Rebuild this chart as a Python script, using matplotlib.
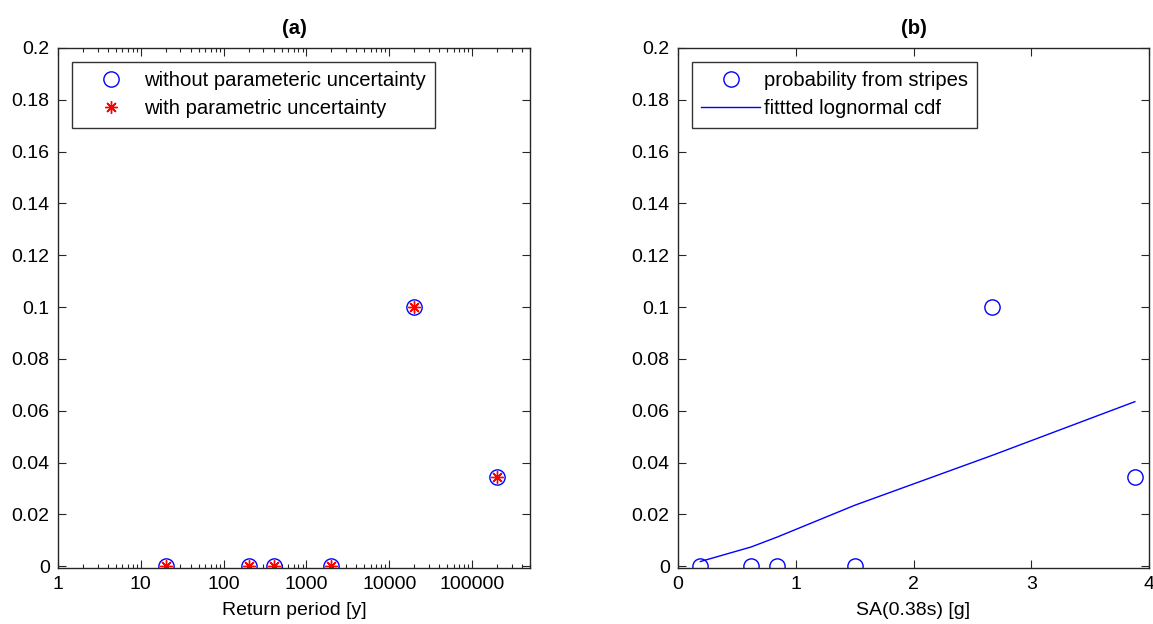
import numpy as np
import matplotlib.pyplot as plt
from matplotlib.ticker import FixedLocator, LogLocator, NullFormatter

plt.rcParams['font.family'] = ['Liberation Sans', 'DejaVu Sans']

# data
return_period = [20, 200, 400, 2000, 20000, 200000]
prob_no_unc = [0, 0, 0, 0, 0.1, 0.0345]
prob_unc = [0, 0, 0, 0, 0.1, 0.0345]

sa = [0.19, 0.62, 0.84, 1.5, 2.67, 3.88]
prob_stripes = [0, 0, 0, 0, 0.1, 0.0345]
fit_cdf = [0.0018, 0.0074, 0.0112, 0.0235, 0.0428, 0.0635]

yticks = [0, 0.02, 0.04, 0.06, 0.08, 0.1, 0.12, 0.14, 0.16, 0.18, 0.2]
ytick_labels = ['0', '0.02', '0.04', '0.06', '0.08', '0.1', '0.12', '0.14', '0.16', '0.18', '0.2']
xticks_a = [1, 10, 100, 1000, 10000, 100000]
xtick_labels_a = ['1', '10', '100', '1000', '10000', '100000']

fs = 14
lfs = 14.6
fig = plt.figure(figsize=(11.53, 6.24), dpi=100)
W, H = 1153, 624
ax1 = fig.add_axes([58 / W, 1 - 568 / H, (530 - 58) / W, (568 - 48) / H])
ax2 = fig.add_axes([678 / W, 1 - 568 / H, (1149 - 678) / W, (568 - 48) / H])

blue = '#0000ff'
red = '#ff0000'
ast = (8, 2, 0)

# (a)
ax1.plot(return_period, prob_no_unc, 'o', ls='none', mfc='none', mec=blue, ms=11, mew=1.0,
         label='without parameteric uncertainty')
ax1.plot(return_period, prob_unc, marker=ast, ls='none', color=red, ms=9, mew=1.0,
         label='with parametric uncertainty')
ax1.set_xscale('log')
ax1.set_xlim(1, 5e5)
ax1.xaxis.set_major_locator(FixedLocator(xticks_a))
ax1.set_xticklabels(xtick_labels_a)
ax1.xaxis.set_minor_locator(LogLocator(base=10, subs=np.arange(2, 10), numticks=20))
ax1.xaxis.set_minor_formatter(NullFormatter())
ax1.set_xlabel('Return period [y]', fontsize=fs, labelpad=6)
ax1.set_title('(a)', fontsize=lfs, fontweight='bold', pad=10)

# (b)
ax2.plot(sa, prob_stripes, 'o', ls='none', mfc='none', mec=blue, ms=11, mew=1.0,
         label='probability from stripes')
ax2.plot(sa, fit_cdf, '-', color=blue, lw=1.0, label='fittted lognormal cdf')
ax2.set_xlim(0, 4)
ax2.set_xticks([0, 1, 2, 3, 4])
ax2.set_xticklabels(['0', '1', '2', '3', '4'])
ax2.set_xlabel('SA(0.38s) [g]', fontsize=fs, labelpad=6)
ax2.set_title('(b)', fontsize=lfs, fontweight='bold', pad=10)

for ax in (ax1, ax2):
    ax.set_ylim(-0.0007, 0.2)
    ax.set_yticks(yticks)
    ax.set_yticklabels(ytick_labels)
    ax.tick_params(which='both', direction='in', top=True, right=True, labelsize=fs, colors='#262626',
                   labelcolor='black')
    ax.tick_params(which='major', length=6, width=0.8, pad=6)
    ax.tick_params(which='minor', length=3, width=0.8)
    for s in ax.spines.values():
        s.set_color('#262626')
        s.set_linewidth(1.0)
    leg = ax.legend(loc='upper left', fontsize=lfs, frameon=True, fancybox=False,
                    edgecolor='black', borderaxespad=0.7, handlelength=2.9,
                    handletextpad=0.2, labelspacing=0.45, borderpad=0.45)
    leg.get_frame().set_linewidth(1.0)

fig.savefig('out.png', dpi=100)
